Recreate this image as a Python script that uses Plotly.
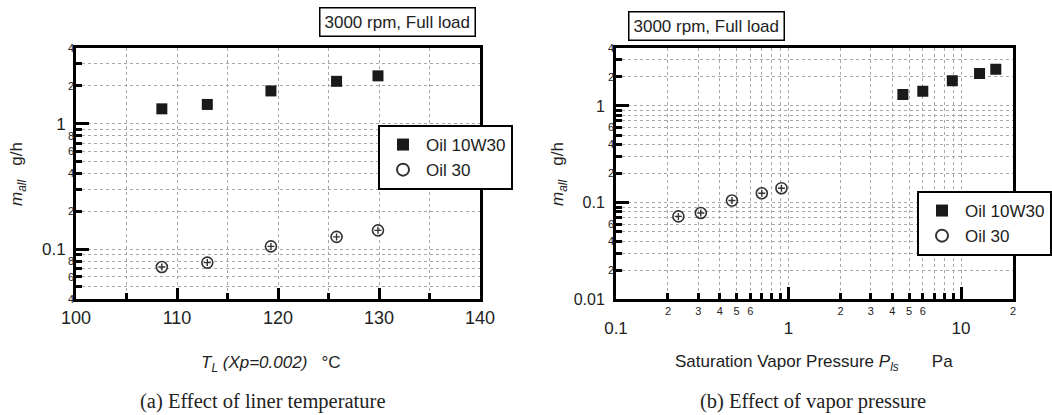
import plotly.graph_objects as go
import math

# ---- data ----
T_L = [108.5, 113.0, 119.3, 125.8, 129.9]
m_10w30 = [1.31, 1.42, 1.82, 2.17, 2.40]
m_30 = [0.072, 0.078, 0.105, 0.125, 0.141]
P_10w30 = [4.6, 6.0, 8.9, 12.8, 15.9]
P_30 = [0.23, 0.31, 0.47, 0.70, 0.91]

# tick values / labels
left_x_major = [100, 110, 120, 130, 140]
left_x_minor = [105, 115, 125, 135]
left_y_major = [0.1, 1]
left_y_minor = [0.05, 0.06, 0.07, 0.08, 0.09, 0.2, 0.3, 0.4, 0.5, 0.6, 0.7, 0.8, 0.9, 2, 3]
left_y_small = [0.04, 0.06, 0.08, 0.2, 0.4, 0.6, 0.8, 2, 4]
left_y_small_text = ["4", "6", "8", "2", "4", "6", "8", "2", "4"]

right_x_major = [0.1, 1, 10]
right_x_minor = [0.2, 0.3, 0.4, 0.5, 0.6, 0.7, 0.8, 0.9, 2, 3, 4, 5, 6, 7, 8, 9]
right_x_small = [0.2, 0.3, 0.4, 0.5, 0.6, 2, 3, 4, 5, 6, 20]
right_x_small_text = ["2", "3", "4", "5", "6", "2", "3", "4", "5", "6", "2"]
right_y_major = [0.01, 0.1, 1]
right_y_minor = [0.02, 0.03, 0.04, 0.05, 0.06, 0.07, 0.08, 0.09,
                 0.2, 0.3, 0.4, 0.5, 0.6, 0.7, 0.8, 0.9, 2, 3]
right_y_small = [0.02, 0.04, 0.06, 0.2, 0.4, 0.6, 2, 4]
right_y_small_text = ["2", "4", "6", "2", "4", "6", "2", "4"]

W, H = 1052, 415
def px_x(p):
    return p / W
def px_y(p):
    return 1 - p / H

FONT = "Liberation Sans, Arial, sans-serif"
SERIF = "Liberation Serif, Times New Roman, serif"
GRID = "#a8a8a8"
INK = "#222222"

sq = dict(symbol="square", size=11, color="#1a1a1a", line=dict(color="#1a1a1a", width=0))
circ = dict(symbol="circle-open", size=11, color="#333333", line=dict(color="#333333", width=1.6))
plus = dict(symbol="cross-thin-open", size=5, color="#333333", line=dict(color="#333333", width=1.4))

fig = go.Figure()
fig.add_trace(go.Scatter(x=T_L, y=m_10w30, mode="markers", name="Oil 10W30",
                         marker=sq, xaxis="x", yaxis="y", legend="legend"))
fig.add_trace(go.Scatter(x=T_L, y=m_30, mode="markers", name="Oil 30", legendgroup="a30",
                         marker=circ, xaxis="x", yaxis="y", legend="legend"))
fig.add_trace(go.Scatter(x=T_L, y=m_30, mode="markers", name="Oil 30", legendgroup="a30",
                         marker=plus, xaxis="x", yaxis="y", showlegend=False))
fig.add_trace(go.Scatter(x=P_10w30, y=m_10w30, mode="markers", name="Oil 10W30",
                         marker=sq, xaxis="x2", yaxis="y2", legend="legend2"))
fig.add_trace(go.Scatter(x=P_30, y=m_30, mode="markers", name="Oil 30", legendgroup="b30",
                         marker=circ, xaxis="x2", yaxis="y2", legend="legend2"))
fig.add_trace(go.Scatter(x=P_30, y=m_30, mode="markers", name="Oil 30", legendgroup="b30",
                         marker=plus, xaxis="x2", yaxis="y2", showlegend=False))
# empty helper traces so overlay label axes are drawn
fig.add_trace(go.Scatter(x=[], y=[], xaxis="x", yaxis="y3", showlegend=False))
fig.add_trace(go.Scatter(x=[], y=[], xaxis="x2", yaxis="y4", showlegend=False))
fig.add_trace(go.Scatter(x=[], y=[], xaxis="x4", yaxis="y2", showlegend=False))

common_line = dict(showline=True, linecolor="black", linewidth=3, mirror=True,
                   zeroline=False, gridcolor=GRID, griddash="dot", gridwidth=1,
                   automargin=False)

lx0, lx1 = px_x(76), px_x(480)
ly0, ly1 = px_y(299), px_y(48)
rx0, rx1 = px_x(616), px_x(1013)
ry0, ry1 = px_y(299.3), px_y(47.7)

fig.update_layout(
    width=W, height=H, margin=dict(l=0, r=0, t=0, b=0, autoexpand=False),
    paper_bgcolor="white", plot_bgcolor="white",
    font=dict(family=FONT, color=INK),
    xaxis=dict(domain=[lx0, lx1], anchor="y", range=[100, 140],
               tickmode="array", tickvals=left_x_major,
               ticks="inside", ticklen=11, tickwidth=3, tickcolor="black",
               tickfont=dict(size=18), ticklabelstandoff=0,
               showgrid=True,
               minor=dict(tickmode="array", tickvals=left_x_minor, ticks="inside",
                          ticklen=6, tickwidth=3, tickcolor="black",
                          showgrid=True, gridcolor=GRID, griddash="dot"),
               **common_line),
    yaxis=dict(domain=[ly0, ly1], anchor="x", type="log",
               range=[math.log10(0.04), math.log10(4)],
               tickmode="array", tickvals=left_y_major, ticktext=["0.1", "1"],
               ticks="inside", ticklen=13, tickwidth=3, tickcolor="black",
               tickfont=dict(size=17), ticklabelstandoff=4,
               showgrid=True,
               minor=dict(tickmode="array", tickvals=left_y_minor, ticks="inside",
                          ticklen=6, tickwidth=3, tickcolor="black",
                          showgrid=True, gridcolor=GRID, griddash="dot"),
               **common_line),
    yaxis3=dict(overlaying="y", anchor="x", side="left", type="log",
                range=[math.log10(0.04), math.log10(4)],
                tickmode="array", tickvals=left_y_small, ticktext=left_y_small_text,
                ticks="", tickfont=dict(size=11), showgrid=False, showline=False,
                zeroline=False, ticklabelstandoff=1, automargin=False),
    xaxis2=dict(domain=[rx0, rx1], anchor="y2", type="log",
                range=[-1, math.log10(20)],
                tickmode="array", tickvals=right_x_major, ticktext=["0.1", "1", "10"],
                ticks="inside", ticklen=12, tickwidth=3, tickcolor="black",
                tickfont=dict(size=17), ticklabelstandoff=11,
                showgrid=True,
                minor=dict(tickmode="array", tickvals=right_x_minor, ticks="inside",
                           ticklen=6, tickwidth=3, tickcolor="black",
                           showgrid=True, gridcolor=GRID, griddash="dot"),
                **common_line),
    xaxis4=dict(overlaying="x2", anchor="y2", side="bottom", type="log",
                range=[-1, math.log10(20)],
                tickmode="array", tickvals=right_x_small, ticktext=right_x_small_text,
                ticks="", tickfont=dict(size=11), showgrid=False, showline=False,
                zeroline=False, ticklabelstandoff=4, automargin=False),
    yaxis2=dict(domain=[ry0, ry1], anchor="x2", type="log",
                range=[-2, math.log10(4)],
                tickmode="array", tickvals=right_y_major, ticktext=["0.01", "0.1", "1"],
                ticks="inside", ticklen=13, tickwidth=3, tickcolor="black",
                tickfont=dict(size=16), ticklabelstandoff=5,
                showgrid=True,
                minor=dict(tickmode="array", tickvals=right_y_minor, ticks="inside",
                           ticklen=6, tickwidth=3, tickcolor="black",
                           showgrid=True, gridcolor=GRID, griddash="dot"),
                **common_line),
    yaxis4=dict(overlaying="y2", anchor="x2", side="left", type="log",
                range=[-2, math.log10(4)],
                tickmode="array", tickvals=right_y_small, ticktext=right_y_small_text,
                ticks="", tickfont=dict(size=11), showgrid=False, showline=False,
                zeroline=False, ticklabelstandoff=1, automargin=False),
    legend=dict(x=px_x(378), y=px_y(125), xanchor="left", yanchor="top",
                bgcolor="white", bordercolor="black", borderwidth=2,
                font=dict(size=17, color=INK), itemsizing="constant",
                itemwidth=36, tracegroupgap=0),
    legend2=dict(x=px_x(917), y=px_y(191), xanchor="left", yanchor="top",
                 bgcolor="white", bordercolor="black", borderwidth=2,
                 font=dict(size=17, color=INK), itemsizing="constant",
                 itemwidth=36, tracegroupgap=0),
)

ann = []
box = dict(showarrow=False, xref="paper", yref="paper", xanchor="center", yanchor="middle",
           bordercolor="black", borderwidth=1.5, borderpad=4, bgcolor="white",
           font=dict(size=17, family=FONT, color=INK))
ann.append(dict(text="3000 rpm, Full load", x=px_x(397), y=px_y(21.5), **box))
ann.append(dict(text="3000 rpm, Full load", x=px_x(706), y=px_y(26.5), **box))

plain = dict(showarrow=False, xref="paper", yref="paper", xanchor="center", yanchor="middle")
ytitle = "<i>m</i><sub><i>all</i></sub>\u00a0\u00a0\u00a0g/h"
ann.append(dict(text=ytitle, x=px_x(18), y=px_y(174), textangle=-90,
                font=dict(size=17, family=FONT, color=INK), **plain))
ann.append(dict(text=ytitle, x=px_x(559), y=px_y(174), textangle=-90,
                font=dict(size=17, family=FONT, color=INK), **plain))
ann.append(dict(text="<i>T</i><sub><i>L</i></sub><i> (Xp=0.002)</i>\u00a0\u00a0 °C",
                x=px_x(271), y=px_y(364), font=dict(size=17, family=FONT, color=INK), **plain))
ann.append(dict(text="Saturation Vapor Pressure <i>P</i><sub><i>ls</i></sub>"
                     "\u00a0\u00a0\u00a0\u00a0\u00a0\u00a0\u00a0Pa",
                x=px_x(814), y=px_y(363), font=dict(size=17, family=FONT, color=INK), **plain))
ann.append(dict(text="(a) Effect of liner temperature", x=px_x(262), y=px_y(401),
                font=dict(size=20.5, family=SERIF, color=INK), **plain))
ann.append(dict(text="(b) Effect of vapor pressure", x=px_x(813), y=px_y(401),
                font=dict(size=20.5, family=SERIF, color=INK), **plain))
fig.update_layout(annotations=ann)

fig.write_html(
    "out.html",
    config={"displayModeBar": False},
    post_script="document.body.style.margin='0px';document.body.style.padding='0px';"
                "document.documentElement.style.overflow='hidden';",
)
